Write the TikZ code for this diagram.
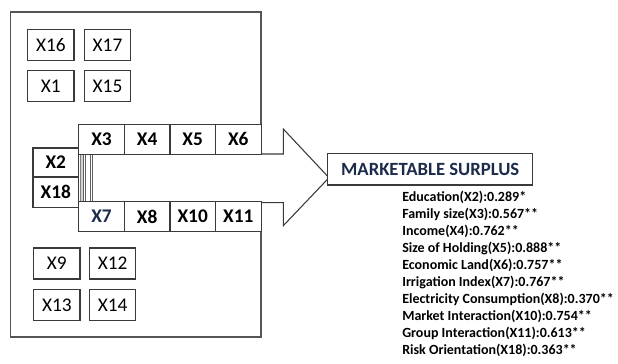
\documentclass[tikz,border=0pt]{standalone}
\usepackage{fontspec}
\setmainfont{Carlito}
\definecolor{edge}{HTML}{3A3A3A}
\definecolor{frameg}{HTML}{555555}
\definecolor{navy}{HTML}{1C2B4A}
\tikzset{
  sbox/.style={draw=edge, line width=0.9pt, fill=white, inner sep=0pt, minimum width=34.7pt, minimum height=23.25pt, font=\fontsize{14.5}{16}\selectfont},
  rbox/.style={draw=edge, line width=0.9pt, fill=white, inner sep=0pt, minimum width=34.2pt, minimum height=22.5pt, font=\fontsize{14.5}{16}\selectfont\bfseries},
  lbl/.style={anchor=base west, inner sep=0pt, font=\fontsize{10.5}{12}\selectfont\bfseries},
}
\begin{document}
\begin{tikzpicture}[x=0.75pt, y=-0.75pt]
\useasboundingbox (0,0) rectangle (618,364);
% outer frame
\draw[frameg, line width=0.8pt] (10.7,12) rectangle (261,337);
% arrow
\draw[edge, line width=0.8pt, fill=white] (81,154) -- (283.3,154) -- (283.3,129) -- (329,177.7) -- (283.3,225.7) -- (283.3,202.7) -- (81,202.7) -- cycle;
\fill[gray!35] (81,154) rectangle (83.5,202.7);
\foreach \xx in {83.5,85.7,90,92.4}{\draw[edge!80, line width=0.6pt] (\xx,154) -- (\xx,202.7);}
% small boxes
\node[sbox] (x16) at (50.85,44.85) {X16};
\node[sbox] (x17) at (107.5,44.85) {X17};
\node[sbox] (x1) at (50.85,86.2) {X1};
\node[sbox] (x15) at (107.5,86.2) {X15};
\node[sbox] (x9) at (56.85,263.5) {X9};
\node[sbox] (x12) at (112.65,263.5) {X12};
\node[sbox] (x13) at (56.85,305.35) {X13};
\node[sbox] (x14) at (112.65,305.35) {X14};
% rows
\node[rbox] (x3) at (101.5,139.15) {X3};
\node[rbox] (x4) at (147.1,139.15) {X4};
\node[rbox] (x5) at (192.7,139.15) {X5};
\node[rbox] (x6) at (238.3,139.15) {X6};
\node[rbox, text=navy] (x7) at (101.5,216.7) {X7};
\node[rbox] (x8) at (147.1,216.7) {X8};
\node[rbox] (x10) at (192.7,216.7) {X10};
\node[rbox] (x11) at (238.3,216.7) {X11};
\node[rbox, minimum height=21.75pt] (x2) at (55.75,162.5) {X2};
\node[rbox, minimum height=22.9pt] (x18) at (55.75,192.25) {X18};
% target
\node[draw=edge, line width=0.9pt, fill=white, minimum width=153.9pt, minimum height=23.6pt, inner sep=0pt,
  font=\fontsize{14}{15}\selectfont\bfseries, text=navy] (ms) at (430.2,169.25) {MARKETABLE SURPLUS};
% labels
\node[lbl] (l1) at (402,201) {Education(X2):0.289*};
\node[lbl] (l2) at (402,218) {Family size(X3):0.567**};
\node[lbl] (l3) at (402,235) {Income(X4):0.762**};
\node[lbl] (l4) at (402,252) {Size of Holding(X5):0.888**};
\node[lbl] (l5) at (402,269) {Economic Land(X6):0.757**};
\node[lbl] (l6) at (402,286) {Irrigation Index(X7):0.767**};
\node[lbl] (l7) at (402,303) {Electricity Consumption(X8):0.370**};
\node[lbl] (l8) at (402,320) {Market Interaction(X10):0.754**};
\node[lbl] (l9) at (402,337) {Group Interaction(X11):0.613**};
\node[lbl] (l10) at (402,354) {Risk Orientation(X18):0.363**};
\end{tikzpicture}
\end{document}
